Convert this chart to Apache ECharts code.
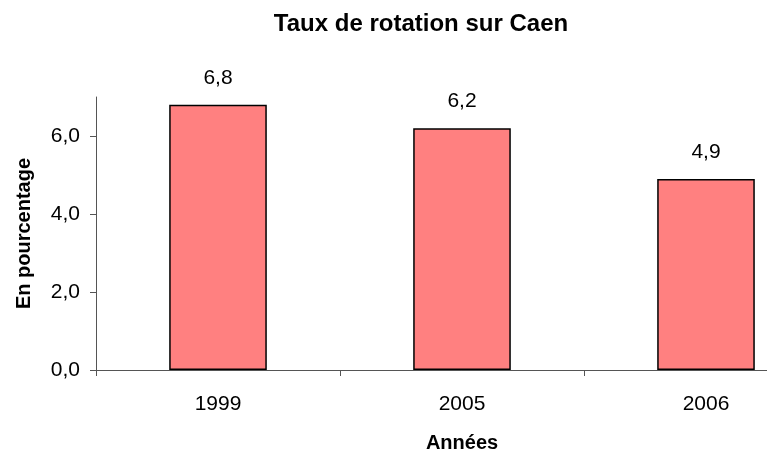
<!DOCTYPE html>
<html><head><meta charset="utf-8">
<script src="https://cdn.jsdelivr.net/npm/echarts@6/dist/echarts.min.js"></script>
<style>html,body{margin:0;padding:0;background:#fff;overflow:hidden}#c{width:828px;height:455px}</style>
</head><body><div id="c"></div>
<script>
const categories = ['1999', '2005', '2006'];
const values = [6.8, 6.2, 4.9];
const yTicks = [0, 2, 4, 6];
const fmt = v => Number(v).toFixed(1).replace('.', ',');
const FONT = 'Liberation Sans, Arial, sans-serif';
const chart = echarts.init(document.getElementById('c'));
chart.setOption({
  animation: false,
  textStyle: { fontFamily: FONT },
  title: {
    text: 'Taux de rotation sur Caen',
    left: 416, top: 7, textAlign: 'center',
    textStyle: { fontSize: 24, fontWeight: 'bold', color: '#000', fontFamily: FONT }
  },
  grid: { left: 96, right: 0, top: 97, bottom: 85, containLabel: false, outerBoundsMode: 'none' },
  xAxis: {
    type: 'category', data: categories,
    name: 'Années', nameLocation: 'middle', nameGap: 63,
    nameTextStyle: { fontSize: 20, fontWeight: 'bold', color: '#000' },
    axisLine: { lineStyle: { color: '#555', width: 1 } },
    axisTick: { show: true, length: 6, lineStyle: { color: '#555' } },
    axisLabel: { fontSize: 21, color: '#000', margin: 24 }
  },
  yAxis: {
    type: 'value', min: 0, max: 7, interval: 2,
    name: 'En pourcentage', nameLocation: 'middle', nameGap: 62,
    nameTextStyle: { fontSize: 20, fontWeight: 'bold', color: '#000' },
    axisLine: { show: true, lineStyle: { color: '#555', width: 1 } },
    axisTick: { show: true, length: 6, lineStyle: { color: '#555' } },
    axisLabel: { fontSize: 21, color: '#000', margin: 16, showMaxLabel: false,
      formatter: v => yTicks.includes(v) ? fmt(v) : '' },
    splitLine: { show: false }
  },
  series: [{
    type: 'bar', data: values, barWidth: '40%',
    itemStyle: { color: '#FF8080', borderColor: '#000', borderWidth: 1.5 },
    label: { show: true, position: 'top', distance: 16, fontSize: 21, color: '#000',
      formatter: p => fmt(p.value) }
  }]
});
</script></body></html>
